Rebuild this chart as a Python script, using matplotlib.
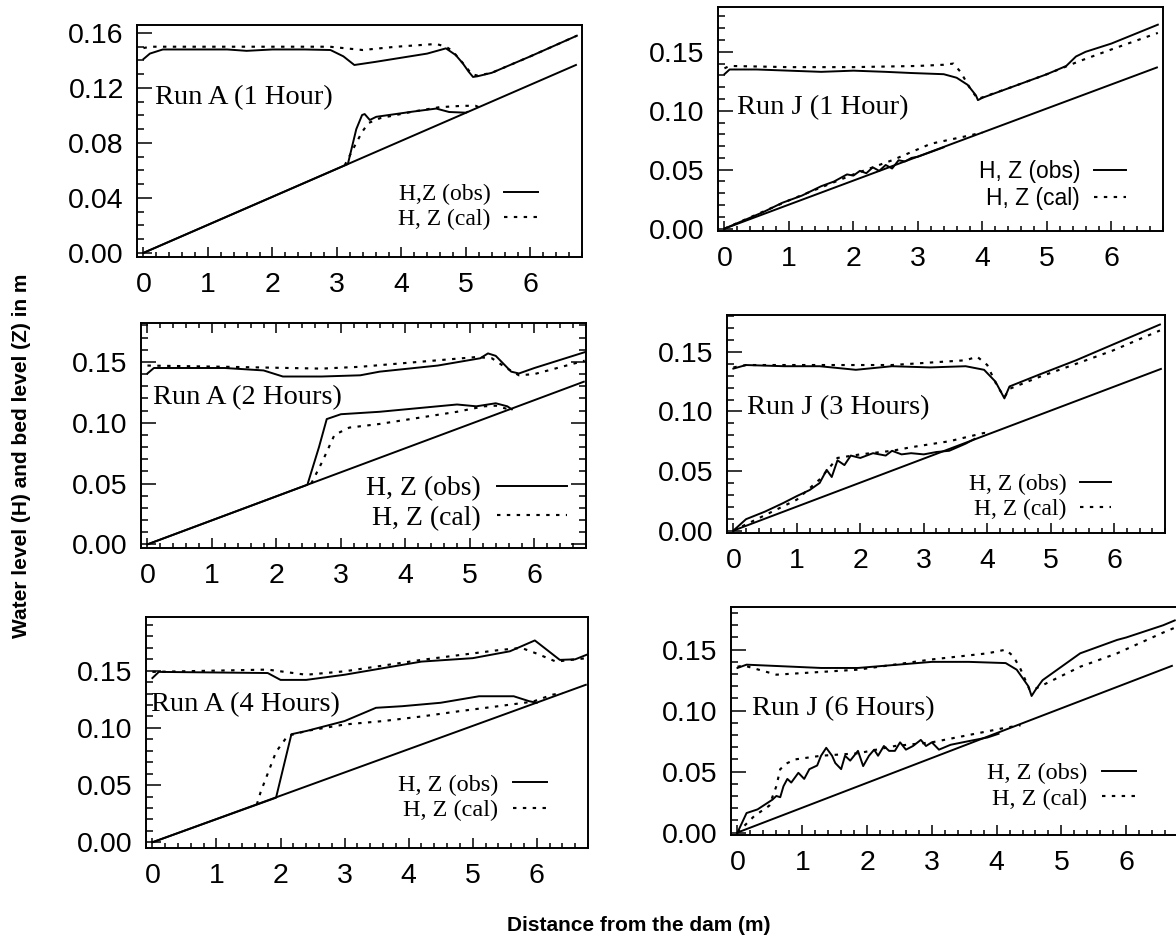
import matplotlib
matplotlib.use("Agg")
import matplotlib.pyplot as plt
from matplotlib.ticker import MultipleLocator, FormatStrFormatter

# ---------------- data ----------------
# Run A (1 Hour)
a1_bed_x = [0, 6.72]
a1_bed_z = [0, 0.137]
a1_hobs_x = [0, 0.1, 0.3, 0.8, 1.3, 1.6, 2.0, 2.5, 2.9, 3.1, 3.27, 3.6, 4.0, 4.4, 4.69, 4.84, 4.95, 5.04, 5.11, 5.18, 5.4, 6.0, 6.72]
a1_hobs_y = [0.141, 0.145, 0.148, 0.148, 0.148, 0.147, 0.148, 0.148, 0.1476, 0.143, 0.1367, 0.139, 0.142, 0.145, 0.1488, 0.144, 0.138, 0.132, 0.128, 0.1285, 0.131, 0.143, 0.158]
a1_hcal_x = [0, 0.1, 1.0, 2.0, 2.89, 3.4, 3.92, 4.54, 4.69, 4.79, 4.99, 5.09, 5.18, 5.4, 6.0, 6.72]
a1_hcal_y = [0.149, 0.150, 0.150, 0.150, 0.150, 0.1476, 0.150, 0.152, 0.150, 0.147, 0.136, 0.130, 0.129, 0.131, 0.143, 0.158]
a1_zobs_x = [0, 3.17, 3.30, 3.39, 3.43, 3.51, 3.61, 4.18, 4.54, 4.74, 5.0, 5.02]
a1_zobs_z = [0, 0.0647, 0.090, 0.1003, 0.101, 0.0967, 0.099, 0.1028, 0.105, 0.1025, 0.102, 0.1025]
a1_zcal_x = [3.12, 3.27, 3.39, 3.49, 3.67, 4.18, 4.59, 4.95, 5.15, 5.2]
a1_zcal_z = [0.0637, 0.0773, 0.088, 0.0945, 0.098, 0.1028, 0.106, 0.107, 0.107, 0.106]

# Run J (1 Hour)
j1_bed_x = [0, 6.72]
j1_bed_z = [0, 0.137]
j1_hobs_x = [0, 0.08, 0.5, 1.0, 1.5, 2.0, 2.5, 2.9, 3.4, 3.6, 3.77, 3.9, 3.93, 4.0, 4.5, 5.0, 5.3, 5.45, 5.6, 6.0, 6.72]
j1_hobs_y = [0.131, 0.135, 0.135, 0.134, 0.133, 0.134, 0.133, 0.132, 0.131, 0.128, 0.122, 0.113, 0.109, 0.111, 0.121, 0.131, 0.138, 0.146, 0.150, 0.157, 0.173]
j1_hcal_x = [0, 0.08, 1.0, 2.0, 3.0, 3.4, 3.55, 3.66, 3.82, 3.93, 4.5, 5.0, 5.5, 6.0, 6.72]
j1_hcal_y = [0.136, 0.138, 0.137, 0.137, 0.138, 0.139, 0.140, 0.133, 0.118, 0.110, 0.121, 0.131, 0.142, 0.152, 0.166]
j1_zobs_x = [0, 0.3, 0.6, 0.9, 1.2, 1.5, 1.7, 1.9, 2.0, 2.1, 2.2, 2.3, 2.4, 2.5, 2.6, 2.7, 2.8, 2.9, 3.0, 3.2, 3.4]
j1_zobs_z = [0, 0.007, 0.014, 0.022, 0.028, 0.036, 0.040, 0.046, 0.045, 0.049, 0.047, 0.052, 0.049, 0.054, 0.051, 0.058, 0.057, 0.060, 0.061, 0.065, 0.069]
j1_zcal_x = [0, 0.5, 1.0, 1.5, 2.0, 2.6, 3.2, 3.54, 3.8, 4.0]
j1_zcal_z = [0, 0.012, 0.024, 0.035, 0.046, 0.058, 0.072, 0.076, 0.079, 0.0816]

# Run A (2 Hours)
a2_bed_x = [0, 6.78]
a2_bed_z = [0, 0.134]
a2_hobs_x = [0, 0.1, 1.2, 1.8, 2.1, 2.7, 3.3, 3.6, 4.5, 5.16, 5.28, 5.4, 5.64, 5.76, 6.0, 6.78]
a2_hobs_y = [0.1405, 0.145, 0.145, 0.143, 0.138, 0.138, 0.139, 0.142, 0.147, 0.153, 0.157, 0.155, 0.142, 0.1405, 0.145, 0.158]
a2_hcal_x = [0, 1.2, 2.7, 3.3, 4.2, 5.1, 5.34, 5.58, 5.76, 6.0, 6.78]
a2_hcal_y = [0.147, 0.146, 0.1445, 0.146, 0.150, 0.154, 0.153, 0.1445, 0.139, 0.140, 0.151]
a2_zobs_x = [0, 2.48, 2.66, 2.78, 3.0, 3.6, 4.2, 4.8, 5.1, 5.4, 5.58, 5.65]
a2_zobs_z = [0, 0.049, 0.080, 0.103, 0.107, 0.109, 0.112, 0.115, 0.1135, 0.116, 0.1135, 0.111]
a2_zcal_x = [2.54, 2.72, 2.9, 3.13, 3.6, 4.2, 4.8, 5.22, 5.4, 5.6]
a2_zcal_z = [0.050, 0.069, 0.090, 0.096, 0.099, 0.104, 0.109, 0.1135, 0.114, 0.111]

# Run J (3 Hours)
j3_bed_x = [0, 6.75]
j3_bed_z = [0, 0.136]
j3_hobs_x = [0, 0.2, 0.8, 1.36, 1.93, 2.5, 3.1, 3.66, 3.95, 4.13, 4.24, 4.27, 4.35, 4.82, 5.4, 5.97, 6.72]
j3_hobs_y = [0.136, 0.139, 0.138, 0.138, 0.135, 0.138, 0.137, 0.138, 0.135, 0.125, 0.114, 0.111, 0.121, 0.131, 0.143, 0.156, 0.173]
j3_hcal_x = [0, 0.2, 1.5, 2.5, 3.66, 3.84, 4.0, 4.15, 4.27, 4.35, 4.82, 5.4, 5.97, 6.72]
j3_hcal_y = [0.137, 0.139, 0.139, 0.139, 0.143, 0.146, 0.139, 0.122, 0.112, 0.119, 0.129, 0.140, 0.151, 0.168]
j3_zobs_x = [0, 0.2, 0.5, 0.78, 1.0, 1.2, 1.36, 1.47, 1.55, 1.64, 1.75, 1.85, 2.0, 2.2, 2.4, 2.5, 2.65, 2.8, 3.0, 3.2, 3.4, 3.66, 3.8]
j3_zobs_z = [0, 0.0096, 0.016, 0.023, 0.029, 0.034, 0.040, 0.051, 0.045, 0.059, 0.055, 0.063, 0.061, 0.065, 0.063, 0.067, 0.064, 0.065, 0.064, 0.066, 0.067, 0.073, 0.077]
j3_zcal_x = [0, 0.5, 1.0, 1.36, 1.64, 2.0, 2.5, 2.8, 3.4, 3.95, 4.05]
j3_zcal_z = [0, 0.013, 0.026, 0.043, 0.061, 0.064, 0.067, 0.070, 0.075, 0.082, 0.0815]

# Run A (4 Hours)
a4_bed_x = [0, 6.78]
a4_bed_z = [0, 0.138]
a4_hobs_x = [0, 0.1, 1.8, 2.0, 2.4, 3.0, 4.2, 5.0, 5.58, 5.97, 6.36, 6.6, 6.78]
a4_hobs_y = [0.1436, 0.149, 0.148, 0.142, 0.142, 0.1465, 0.158, 0.161, 0.167, 0.1765, 0.1595, 0.160, 0.164]
a4_hcal_x = [0, 1.8, 2.4, 3.0, 4.2, 5.4, 5.76, 6.0, 6.3, 6.78]
a4_hcal_y = [0.149, 0.151, 0.1465, 0.1495, 0.1595, 0.168, 0.170, 0.165, 0.158, 0.161]
a4_zobs_x = [0, 1.93, 2.17, 2.41, 3.0, 3.49, 3.9, 4.5, 5.1, 5.64, 5.88, 6.0]
a4_zobs_z = [0, 0.039, 0.0945, 0.0974, 0.106, 0.1176, 0.119, 0.122, 0.1277, 0.1277, 0.1234, 0.122]
a4_zcal_x = [1.63, 1.69, 1.93, 2.11, 2.41, 3.0, 3.6, 4.2, 4.8, 5.4, 5.94, 6.24, 6.4]
a4_zcal_z = [0.033, 0.044, 0.079, 0.093, 0.0974, 0.103, 0.106, 0.110, 0.1147, 0.119, 0.123, 0.129, 0.1305]

# Run J (6 Hours)
j6_bed_x = [0, 6.72]
j6_bed_z = [0, 0.137]
j6_hobs_x = [0, 0.14, 1.29, 1.86, 3.0, 3.57, 4.14, 4.31, 4.49, 4.54, 4.6, 4.71, 5.29, 5.86, 6.0, 6.57, 6.75]
j6_hobs_y = [0.135, 0.1377, 0.135, 0.135, 0.140, 0.140, 0.139, 0.1336, 0.120, 0.112, 0.117, 0.125, 0.147, 0.158, 0.160, 0.170, 0.174]
j6_hcal_x = [0, 0.1, 0.6, 1.86, 3.0, 3.86, 4.14, 4.26, 4.37, 4.51, 4.6, 5.29, 5.86, 6.57, 6.75]
j6_hcal_y = [0.136, 0.137, 0.1295, 0.1336, 0.142, 0.147, 0.150, 0.1445, 0.134, 0.117, 0.118, 0.136, 0.147, 0.164, 0.168]
j6_zobs_x = [0, 0.14, 0.31, 0.54, 0.6, 0.66, 0.71, 0.77, 0.83, 0.94, 1.03, 1.11, 1.23, 1.29, 1.37, 1.46, 1.51, 1.6, 1.66, 1.74, 1.86, 1.94, 2.03, 2.11, 2.17, 2.26, 2.34, 2.43, 2.51, 2.6, 2.71, 2.83, 2.91, 3.0, 3.11, 3.29, 3.57, 3.86, 4.03]
j6_zobs_z = [0, 0.016, 0.019, 0.027, 0.030, 0.029, 0.038, 0.044, 0.041, 0.049, 0.044, 0.052, 0.055, 0.063, 0.0695, 0.063, 0.057, 0.052, 0.063, 0.059, 0.067, 0.0545, 0.063, 0.068, 0.063, 0.071, 0.067, 0.067, 0.074, 0.068, 0.071, 0.076, 0.071, 0.074, 0.068, 0.072, 0.075, 0.078, 0.081]
j6_zcal_x = [0, 0.26, 0.49, 0.6, 0.66, 0.77, 0.89, 1.29, 1.86, 2.43, 3.0, 3.57, 4.14, 4.37]
j6_zcal_z = [0, 0.0136, 0.022, 0.038, 0.052, 0.057, 0.060, 0.063, 0.065, 0.071, 0.074, 0.080, 0.086, 0.088]

run_titles = ["Run A (1 Hour)", "Run J (1 Hour)", "Run A (2 Hours)",
              "Run J (3 Hours)", "Run A (4 Hours)", "Run J (6 Hours)"]
legend_obs = ["H,Z (obs)", "H, Z (obs)", "H, Z (obs)", "H, Z (obs)", "H, Z (obs)", "H, Z (obs)"]
legend_cal = ["H, Z (cal)", "H, Z (cal)", "H, Z (cal)", "H, Z (cal)", "H, Z (cal)", "H, Z (cal)"]
x_ticks = [0, 1, 2, 3, 4, 5, 6]

# ---------------- layout ----------------
W, H = 1176, 938
fig = plt.figure(figsize=(W / 100, H / 100), dpi=100)
fig.patch.set_facecolor("white")

SANS = ["Liberation Sans", "DejaVu Sans"]
SERIF = ["Liberation Serif", "DejaVu Serif"]
DOT = (0, (1.6, 3.0))

panels = [
    dict(px=(137, 582, 25, 257), ylim=(-0.003, 0.1658), major=0.04,
         data=(a1_bed_x, a1_bed_z, a1_hobs_x, a1_hobs_y, a1_hcal_x, a1_hcal_y, a1_zobs_x, a1_zobs_z, a1_zcal_x, a1_zcal_z),
         tpos=(0.04, 0.685), lpos=(0.90, 0.115), lfs=17, lfam=SERIF, hl=1.4, mirror=False),
    dict(px=(718, 1163, 7, 231), ylim=(-0.002, 0.188), major=0.05,
         data=(j1_bed_x, j1_bed_z, j1_hobs_x, j1_hobs_y, j1_hcal_x, j1_hcal_y, j1_zobs_x, j1_zobs_z, j1_zcal_x, j1_zcal_z),
         tpos=(0.043, 0.55), lpos=(0.917, 0.095), lfs=16.5, lfam=SANS, hl=1.4, mirror=False),
    dict(px=(141, 586, 323, 548), ylim=(-0.003, 0.182), major=0.05,
         data=(a2_bed_x, a2_bed_z, a2_hobs_x, a2_hobs_y, a2_hcal_x, a2_hcal_y, a2_zobs_x, a2_zobs_z, a2_zcal_x, a2_zcal_z),
         tpos=(0.027, 0.667), lpos=(0.957, 0.075), lfs=20, lfam=SERIF, hl=2.5, mirror=True),
    dict(px=(727, 1165, 315, 533), ylim=(-0.002, 0.181), major=0.05,
         data=(j3_bed_x, j3_bed_z, j3_hobs_x, j3_hobs_y, j3_hcal_x, j3_hcal_y, j3_zobs_x, j3_zobs_z, j3_zcal_x, j3_zcal_z),
         tpos=(0.046, 0.573), lpos=(0.877, 0.06), lfs=17, lfam=SERIF, hl=1.3, mirror=False),
    dict(px=(146, 588, 617, 848), ylim=(-0.005, 0.197), major=0.05,
         data=(a4_bed_x, a4_bed_z, a4_hobs_x, a4_hobs_y, a4_hcal_x, a4_hcal_y, a4_zobs_x, a4_zobs_z, a4_zcal_x, a4_zcal_z),
         tpos=(0.011, 0.62), lpos=(0.907, 0.115), lfs=17.5, lfam=SERIF, hl=1.4, mirror=False),
    dict(px=(731, 1178, 607, 835), ylim=(-0.002, 0.185), major=0.05,
         data=(j6_bed_x, j6_bed_z, j6_hobs_x, j6_hobs_y, j6_hcal_x, j6_hcal_y, j6_zobs_x, j6_zobs_z, j6_zcal_x, j6_zcal_z),
         tpos=(0.047, 0.553), lpos=(0.905, 0.11), lfs=17.5, lfam=SERIF, hl=1.4, mirror=False),
]

LW = 1.4
for i, p in enumerate(panels):
    l, r, t, b = p["px"]
    ax = fig.add_axes([l / W, 1 - b / H, (r - l) / W, (b - t) / H])
    bx, bz, hox, hoy, hcx, hcy, zox, zoz, zcx, zcz = p["data"]
    ax.plot(bx, bz, color="black", lw=LW, solid_capstyle="butt")
    lo, = ax.plot(hox, hoy, color="black", lw=LW)
    lc, = ax.plot(hcx, hcy, color="black", lw=LW * 1.1, linestyle=DOT)
    ax.plot(zox, zoz, color="black", lw=LW)
    ax.plot(zcx, zcz, color="black", lw=LW * 1.1, linestyle=DOT)

    ax.set_xlim(-0.1, 6.8)
    ax.set_ylim(*p["ylim"])
    ax.set_xticks(x_ticks)
    ax.xaxis.set_minor_locator(MultipleLocator(0.2))
    ax.yaxis.set_major_locator(MultipleLocator(p["major"]))
    ax.yaxis.set_minor_locator(MultipleLocator(0.01))
    ax.yaxis.set_major_formatter(FormatStrFormatter("%.2f"))
    ax.tick_params(axis="both", which="both", direction="in", width=1.1, color="black")
    ax.tick_params(axis="x", which="major", length=7.5, pad=11)
    ax.tick_params(axis="x", which="minor", length=3.8)
    ax.tick_params(axis="y", which="major", length=10.5, pad=9.5)
    ax.tick_params(axis="y", which="minor", length=5.2)
    if p["mirror"]:
        ax.tick_params(axis="both", which="both", top=True, right=True)
    for lab in ax.get_xticklabels() + ax.get_yticklabels():
        lab.set_fontfamily(SANS)
        lab.set_fontsize(20.5)
    for s in ax.spines.values():
        s.set_linewidth(1.4)

    ax.text(p["tpos"][0], p["tpos"][1], run_titles[i], transform=ax.transAxes,
            family=SERIF, fontsize=20.5, ha="left", va="center")

    ax.legend([lo, lc], [legend_obs[i], legend_cal[i]], loc="lower right",
              bbox_to_anchor=p["lpos"], frameon=False, markerfirst=False,
              handlelength=p["hl"], handletextpad=0.6, borderpad=0,
              borderaxespad=0, labelspacing=0.15,
              prop={"family": p["lfam"], "size": p["lfs"]})

fig.text(22 / W, 1 - 456 / H, "Water level (H) and bed level (Z) in m", rotation=90,
         family=SANS, fontweight="bold", fontsize=15, ha="center", va="center")
fig.text(639 / W, 1 - 925 / H, "Distance from the dam (m)",
         family=SANS, fontweight="bold", fontsize=15, ha="center", va="center")

fig.savefig("out.png", dpi=100, facecolor="white")
